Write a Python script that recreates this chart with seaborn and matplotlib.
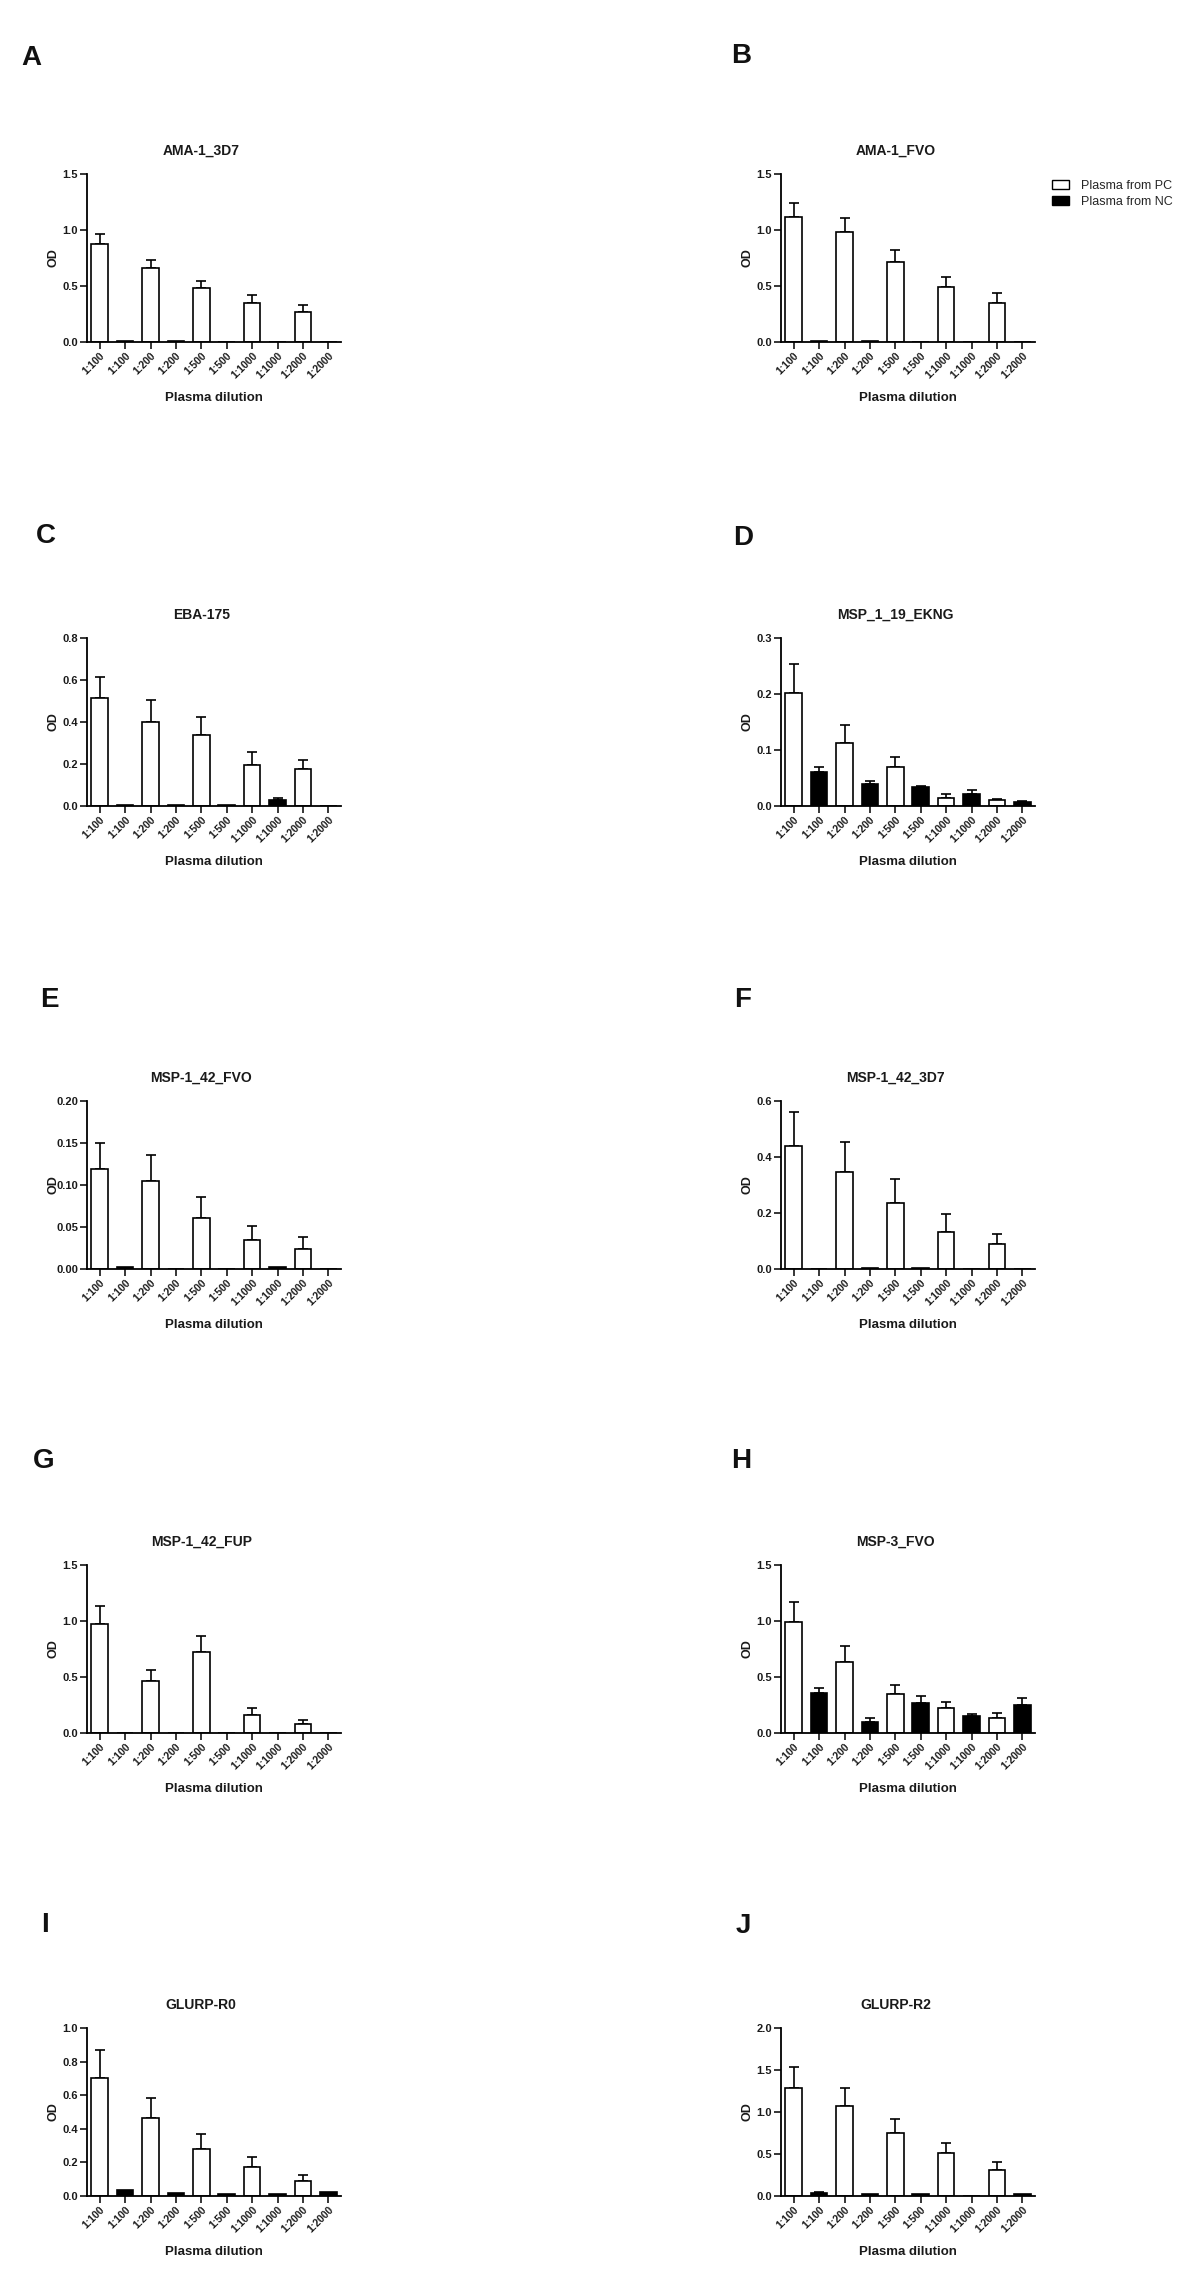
import numpy as np
import pandas as pd
import matplotlib
matplotlib.use("Agg")
import matplotlib.pyplot as plt
from matplotlib.patches import Patch
from matplotlib.ticker import FormatStrFormatter
import seaborn as sns

sns.set_style("ticks")
plt.rcParams["font.family"] = ["Liberation Sans", "DejaVu Sans"]

# ---------------- data ----------------
dilutions = ["1:100", "1:100", "1:200", "1:200", "1:500", "1:500",
             "1:1000", "1:1000", "1:2000", "1:2000"]
groups = ["Plasma from PC", "Plasma from NC"]
letters = ["A", "B", "C", "D", "E", "F", "G", "H", "I", "J"]
titles = ["AMA-1_3D7", "AMA-1_FVO", "EBA-175", "MSP_1_19_EKNG", "MSP-1_42_FVO",
          "MSP-1_42_3D7", "MSP-1_42_FUP", "MSP-3_FVO", "GLURP-R0", "GLURP-R2"]

A_pc = [0.875, 0.657, 0.478, 0.344, 0.272]
A_pc_err = [0.090, 0.075, 0.069, 0.072, 0.054]
A_nc = [0.012, 0.010, 0.0, 0.0, 0.0]
A_nc_err = [0, 0, 0, 0, 0]

B_pc = [1.114, 0.986, 0.711, 0.493, 0.344]
B_pc_err = [0.125, 0.120, 0.110, 0.084, 0.090]
B_nc = [0.012, 0.012, 0.0, 0.0, 0.0]
B_nc_err = [0, 0, 0, 0, 0]

C_pc = [0.513, 0.398, 0.339, 0.196, 0.175]
C_pc_err = [0.100, 0.105, 0.085, 0.063, 0.046]
C_nc = [0.006, 0.006, 0.004, 0.030, 0.0]
C_nc_err = [0, 0, 0, 0.008, 0]

D_pc = [0.202, 0.112, 0.069, 0.014, 0.010]
D_pc_err = [0.051, 0.032, 0.018, 0.008, 0.003]
D_nc = [0.0615, 0.040, 0.034, 0.022, 0.007]
D_nc_err = [0.008, 0.004, 0.002, 0.007, 0.002]

E_pc = [0.119, 0.105, 0.0606, 0.0347, 0.0243]
E_pc_err = [0.031, 0.031, 0.025, 0.016, 0.0143]
E_nc = [0.002, 0.0, 0.0, 0.002, 0.0]
E_nc_err = [0, 0, 0, 0, 0]

F_pc = [0.439, 0.345, 0.235, 0.131, 0.088]
F_pc_err = [0.123, 0.108, 0.086, 0.066, 0.036]
F_nc = [0.0, 0.005, 0.005, 0.0, 0.0]
F_nc_err = [0, 0, 0, 0, 0]

G_pc = [0.974, 0.466, 0.719, 0.157, 0.080]
G_pc_err = [0.160, 0.098, 0.143, 0.065, 0.033]
G_nc = [0.0, 0.0, 0.0, 0.0, 0.0]
G_nc_err = [0, 0, 0, 0, 0]

H_pc = [0.989, 0.630, 0.350, 0.223, 0.137]
H_pc_err = [0.178, 0.143, 0.077, 0.056, 0.039]
H_nc = [0.353, 0.098, 0.264, 0.154, 0.247]
H_nc_err = [0.053, 0.036, 0.068, 0.015, 0.068]

I_pc = [0.700, 0.465, 0.282, 0.173, 0.0895]
I_pc_err = [0.169, 0.121, 0.085, 0.060, 0.034]
I_nc = [0.035, 0.020, 0.012, 0.010, 0.025]
I_nc_err = [0, 0, 0, 0, 0]

J_pc = [1.291, 1.072, 0.753, 0.506, 0.307]
J_pc_err = [0.239, 0.211, 0.163, 0.120, 0.100]
J_nc = [0.035, 0.020, 0.020, 0.0, 0.020]
J_nc_err = [0.010, 0, 0, 0, 0]

y_max = [1.5, 1.5, 0.8, 0.3, 0.20, 0.6, 1.5, 1.5, 1.0, 2.0]
y_step = [0.5, 0.5, 0.2, 0.1, 0.05, 0.2, 0.5, 0.5, 0.2, 0.5]
y_fmt = ["%.1f", "%.1f", "%.1f", "%.1f", "%.2f", "%.1f", "%.1f", "%.1f", "%.1f", "%.1f"]

panels = [
    (A_pc, A_pc_err, A_nc, A_nc_err),
    (B_pc, B_pc_err, B_nc, B_nc_err),
    (C_pc, C_pc_err, C_nc, C_nc_err),
    (D_pc, D_pc_err, D_nc, D_nc_err),
    (E_pc, E_pc_err, E_nc, E_nc_err),
    (F_pc, F_pc_err, F_nc, F_nc_err),
    (G_pc, G_pc_err, G_nc, G_nc_err),
    (H_pc, H_pc_err, H_nc, H_nc_err),
    (I_pc, I_pc_err, I_nc, I_nc_err),
    (J_pc, J_pc_err, J_nc, J_nc_err),
]

# ---------------- layout (pixels) ----------------
W, H = 1200, 2281
fig = plt.figure(figsize=(W / 100, H / 100), dpi=100)
col_left = [87, 781]
ax_w = 254
ax_h = 168
row_zero = [342, 806, 1269, 1733, 2196]
letter_pos = [(21, 65), (731, 63), (36, 543), (733, 545), (40, 1007),
              (734, 1007), (33, 1468), (731, 1468), (41, 1932), (736, 1933)]

palette = {groups[0]: "white", groups[1]: "black"}
lw = 1.2
txt = "#1a1a1a"

for k in range(10):
    r, c = divmod(k, 2)
    left = col_left[c] / W
    bottom = 1 - row_zero[r] / H
    ax = fig.add_axes([left, bottom, ax_w / W, ax_h / H])
    pc, pc_err, nc, nc_err = panels[k]
    vals, errs, grp = [], [], []
    for i in range(5):
        vals += [pc[i], nc[i]]
        errs += [pc_err[i], nc_err[i]]
        grp += groups
    pos = [str(i) for i in range(10)]
    df = pd.DataFrame({"pos": pos, "OD": vals, "group": grp, "err": errs})
    sns.barplot(data=df, x="pos", y="OD", hue="group", order=pos,
                hue_order=groups, palette=palette, edgecolor="black",
                linewidth=lw, width=0.66, dodge=False, errorbar=None,
                saturation=1, legend=False, ax=ax, zorder=2)
    sel = df[df["err"] > 0]
    xi = [pos.index(p) for p in sel["pos"]]
    ax.errorbar(xi, sel["OD"], yerr=[np.zeros(len(sel)), sel["err"]],
                fmt="none", ecolor="black", elinewidth=lw, capsize=3.3,
                capthick=lw, zorder=1)

    ax.set_xlim(-0.5, 9.5)
    ax.set_ylim(0, y_max[k])
    ax.set_yticks(np.arange(0, y_max[k] + y_step[k] / 2, y_step[k]))
    ax.yaxis.set_major_formatter(FormatStrFormatter(y_fmt[k]))
    ax.set_xticks(range(10))
    ax.set_xticklabels(dilutions, rotation=45, ha="right",
                       rotation_mode="anchor", fontsize=7.5, fontweight="bold",
                       color=txt)
    for t in ax.get_yticklabels():
        t.set_fontsize(8)
        t.set_fontweight("bold")
        t.set_color(txt)
    ax.tick_params(axis="both", length=5, width=1.1, pad=1.5, color="black")
    sns.despine(ax=ax)
    for s in ["left", "bottom"]:
        ax.spines[s].set_linewidth(1.3)
        ax.spines[s].set_color("black")
    ax.set_facecolor("white")
    ax.set_title(titles[k], fontsize=10, fontweight="bold", pad=13.7,
                 color=txt, x=0.45)
    ax.set_xlabel("Plasma dilution", fontsize=9.5, fontweight="bold",
                  color=txt)
    ax.xaxis.set_label_coords(0.5, -0.30)
    ax.set_ylabel("OD", fontsize=9, fontweight="bold", color=txt)
    ax.yaxis.set_label_coords(-0.11, 0.5)

    lx, ly = letter_pos[k]
    fig.text(lx / W, 1 - ly / H, letters[k], fontsize=20, fontweight="bold",
             ha="left", va="baseline", color="#111111")

    if k == 1:
        handles = [Patch(facecolor="white", edgecolor="black", linewidth=1.0),
                   Patch(facecolor="black", edgecolor="black", linewidth=1.0)]
        ax.legend(handles, groups, loc="upper left",
                  bbox_to_anchor=(1.067, 0.964), frameon=False, fontsize=9,
                  handlelength=1.36, handleheight=0.72, handletextpad=0.95,
                  labelspacing=0.32, borderpad=0, borderaxespad=0)

fig.savefig("out.png", dpi=100, facecolor="white")
